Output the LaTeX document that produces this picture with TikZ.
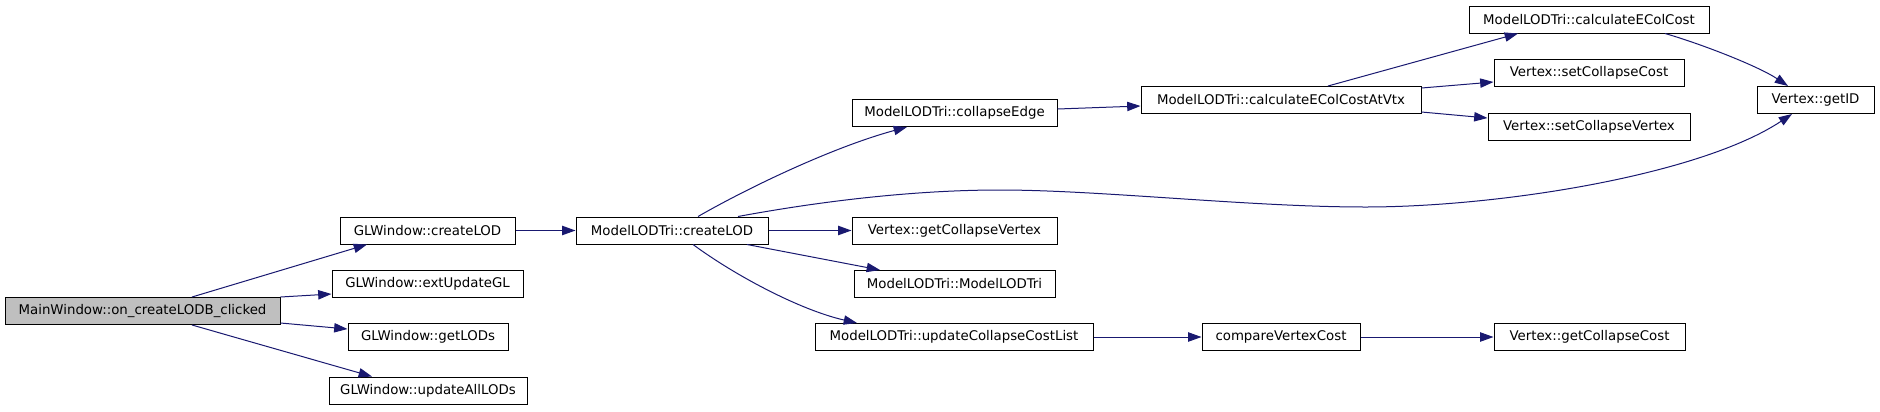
\documentclass[tikz,border=0pt]{standalone}
\usepackage{fontspec}
\setmainfont{DejaVu Sans}
\usepackage{xcolor}
\usepackage{tikz}
\usetikzlibrary{positioning, arrows.meta, calc}
\definecolor{edgeblue}{HTML}{191970}
\definecolor{rootgrey}{HTML}{BFBFBF}

\begin{document}
\begin{tikzpicture}[
  x=0.75pt, y=-0.75pt,
  box/.style={draw=black, line width=0.75pt, inner sep=0pt, minimum height=27*0.75pt,
    align=center, fill=white},
  bw/.style={minimum width=#1*0.75pt},
  arr/.style={-{Triangle[length=10pt, width=7pt]}, draw=edgeblue, line width=0.75pt},
  every node/.style={font=\fontsize{10pt}{12pt}\selectfont}
]
  \useasboundingbox (0,0) rectangle (1880,411);

  % Nodes
  \node[box, bw=275, fill=rootgrey] (main) at (142.5,311) {MainWindow::on\_createLODB\_clicked};
  \node[box, bw=175] (glcreate) at (427.5,230.5) {GLWindow::createLOD};
  \node[box, bw=191] (glext) at (427.5,284) {GLWindow::extUpdateGL};
  \node[box, bw=160] (glget) at (428,337) {GLWindow::getLODs};
  \node[box, bw=198] (glupd) at (428,390.5) {GLWindow::updateAllLODs};

  \node[box, bw=192] (mcreate) at (672,230.5) {ModelLODTri::createLOD};
  \node[box, bw=205] (mcollapse) at (954.5,113) {ModelLODTri::collapseEdge};
  \node[box, bw=205] (vgetcv) at (954.5,230.5) {Vertex::getCollapseVertex};
  \node[box, bw=201] (mctor) at (954.5,284) {ModelLODTri::ModelLODTri};
  \node[box, bw=278] (mupdate) at (954,337) {ModelLODTri::updateCollapseCostList};

  \node[box, bw=280] (mcalcvtx) at (1281,100) {ModelLODTri::calculateEColCostAtVtx};
  \node[box, bw=158] (cmp) at (1281,337) {compareVertexCost};

  \node[box, bw=240] (mcalc) at (1589,19.5) {ModelLODTri::calculateEColCost};
  \node[box, bw=190] (vsetcost) at (1589,73) {Vertex::setCollapseCost};
  \node[box, bw=202] (vsetvert) at (1589,126.5) {Vertex::setCollapseVertex};
  \node[box, bw=191] (vgetcost) at (1589.5,337) {Vertex::getCollapseCost};
  \node[box, bw=117] (vgetid) at (1815.5,100) {Vertex::getID};

  % Calls from MainWindow
  \draw[arr] ($(main.north)+(49.5,0)$) -- ($(glcreate.south)+(-60.5,0)$);
  \draw[arr] (main.north east) -- ($(glext.west)+(0,10)$);
  \draw[arr] ($(main.south east)+(0,-2)$) -- ($(glget.west)+(0,-8)$);
  \draw[arr] ($(main.south)+(49.5,0)$) -- ($(glupd.north)+(-56,0)$);

  % Calls from GLWindow and ModelLODTri
  \draw[arr] (glcreate) -- (mcreate);
  \draw[arr] ($(mcreate.north)+(26,0)$) .. controls +(47,-27) and +(-77,21) .. ($(mcollapse.south)+(-47.5,0)$);
  \draw[arr] ($(mcreate.north)+(66,0)$) .. controls (800,205) and (900,190) .. (1000,190)
    .. controls (1100,190) and (1250,207) .. (1365,207)
    .. controls (1500,207) and (1700,175) .. ($(vgetid.south)+(-23.5,0)$);
  \draw[arr] (mcreate) -- (vgetcv);
  \draw[arr] ($(mcreate.south)+(75,0)$) -- ($(mctor.north)+(-74.5,0)$);
  \draw[arr] ($(mcreate.south)+(21,0)$) .. controls +(42,31) and +(-57,-13) .. ($(mupdate.north)+(-97,0)$);

  \draw[arr] ($(mcollapse.east)+(0,-4)$) -- ($(mcalcvtx.west)+(0,6)$);
  \draw[arr] ($(mcalcvtx.north)+(47,0)$) -- ($(mcalc.south)+(-71,0)$);
  \draw[arr] ($(mcalcvtx.east)+(0,-12)$) -- ($(vsetcost.west)+(0,9)$);
  \draw[arr] ($(mcalcvtx.east)+(0,12)$) -- ($(vsetvert.west)+(0,-8.5)$);
  \draw[arr] ($(mcalc.south)+(76,0)$) .. controls +(35,10) and +(-30,-20) .. ($(vgetid.north)+(-27.5,0)$);

  \draw[arr] (mupdate) -- (cmp);
  \draw[arr] (cmp) -- (vgetcost);
\end{tikzpicture}
\end{document}
